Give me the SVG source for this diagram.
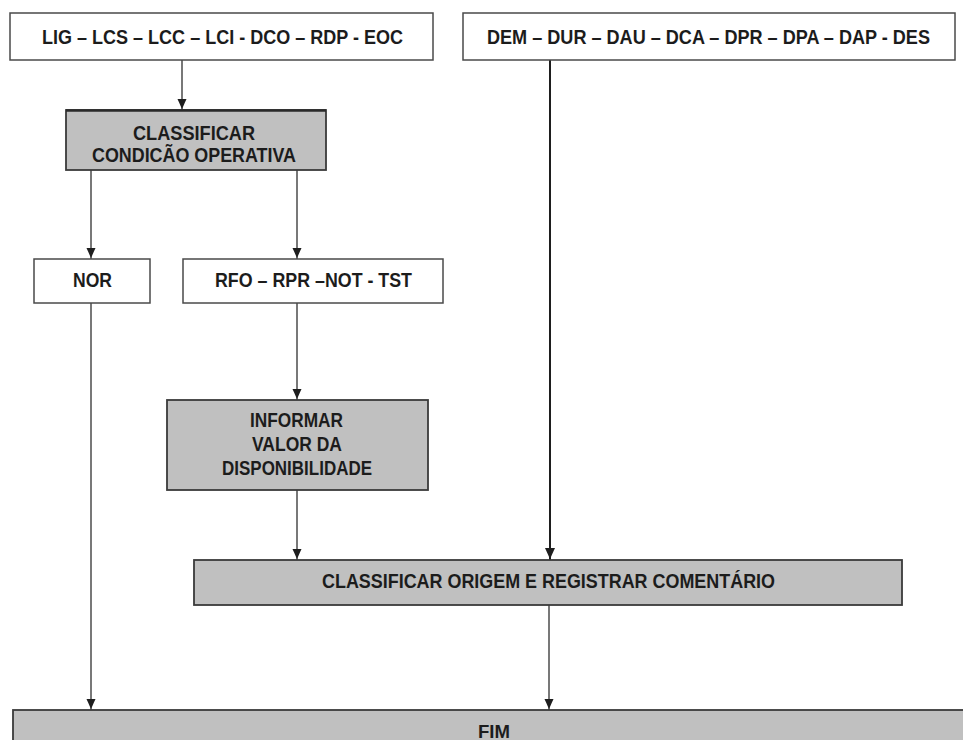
<svg xmlns="http://www.w3.org/2000/svg" width="963" height="740" viewBox="0 0 963 740">
<style>
.w{fill:#ffffff;stroke:#4a4a4a;stroke-width:1.5}
.g{fill:#c0c0c0;stroke:#3a3a3a;stroke-width:1.8}
.t{font-family:"Liberation Sans",Arial,sans-serif;font-size:20px;font-weight:bold;fill:#1c1c1c}
.ln{stroke:#1e1e1e;stroke-width:1.2;fill:none}
.lt{stroke:#1e1e1e;stroke-width:2;fill:none}
.hd{fill:#1e1e1e}
</style>
<rect width="963" height="740" fill="#ffffff"/>
<g id="connectors">
<path class="ln" d="M182,60 V110"/>
<path class="hd" d="M177.5,99 L186.5,99 L182,109 Z"/>
<path class="ln" d="M91,170 V259"/>
<path class="hd" d="M86.5,248 L95.5,248 L91,258 Z"/>
<path class="ln" d="M297,170 V259"/>
<path class="hd" d="M292.5,248 L301.5,248 L297,258 Z"/>
<path class="ln" d="M91,303 V710"/>
<path class="hd" d="M86.5,699 L95.5,699 L91,709 Z"/>
<path class="ln" d="M297,303 V400"/>
<path class="hd" d="M292.5,389 L301.5,389 L297,399 Z"/>
<path class="ln" d="M297,490 V560"/>
<path class="hd" d="M292.5,549 L301.5,549 L297,559 Z"/>
<path class="lt" d="M550,60 V560"/>
<path class="hd" d="M545,548 L555,548 L550,559 Z"/>
<path class="ln" d="M549,605 V710"/>
<path class="hd" d="M544.5,699 L553.5,699 L549,709 Z"/>
</g>
<g id="n1">
<rect class="w" x="10" y="13" width="423" height="47"/>
<text class="t" x="42" y="44" textLength="361" lengthAdjust="spacingAndGlyphs">LIG – LCS – LCC – LCI - DCO – RDP - EOC</text>
</g>
<g id="n2">
<rect class="w" x="463" y="13" width="492" height="47"/>
<text class="t" x="487" y="44" textLength="443" lengthAdjust="spacingAndGlyphs">DEM – DUR – DAU – DCA – DPR – DPA – DAP - DES</text>
</g>
<g id="n3">
<rect class="g" x="66" y="110" width="260" height="60"/>
<line x1="66" y1="110.5" x2="326" y2="110.5" stroke="#2a2a2a" stroke-width="2.5"/>
<text class="t" x="133" y="140" textLength="122" lengthAdjust="spacingAndGlyphs">CLASSIFICAR</text>
<text class="t" x="92" y="162" textLength="204" lengthAdjust="spacingAndGlyphs">CONDICÃO OPERATIVA</text>
</g>
<g id="n4">
<rect class="w" x="34" y="259" width="116" height="44"/>
<text class="t" x="73" y="287" textLength="39" lengthAdjust="spacingAndGlyphs">NOR</text>
</g>
<g id="n5">
<rect class="w" x="183" y="259" width="260" height="44"/>
<text class="t" x="215" y="287" textLength="197" lengthAdjust="spacingAndGlyphs">RFO – RPR –NOT - TST</text>
</g>
<g id="n6">
<rect class="g" x="167" y="400" width="261" height="90"/>
<text class="t" x="250" y="427" textLength="93" lengthAdjust="spacingAndGlyphs">INFORMAR</text>
<text class="t" x="252" y="451" textLength="90" lengthAdjust="spacingAndGlyphs">VALOR DA</text>
<text class="t" x="222" y="475" textLength="150" lengthAdjust="spacingAndGlyphs">DISPONIBILIDADE</text>
</g>
<g id="n7">
<rect class="g" x="194" y="560" width="708" height="45"/>
<text class="t" x="322" y="588" textLength="453" lengthAdjust="spacingAndGlyphs">CLASSIFICAR ORIGEM E REGISTRAR COMENTÁRIO</text>
</g>
<g id="n8">
<rect class="g" x="13" y="710" width="980" height="60"/>
<text class="t" x="478" y="738" textLength="32" lengthAdjust="spacingAndGlyphs" style="font-size:18px">FIM</text>
</g>
</svg>
